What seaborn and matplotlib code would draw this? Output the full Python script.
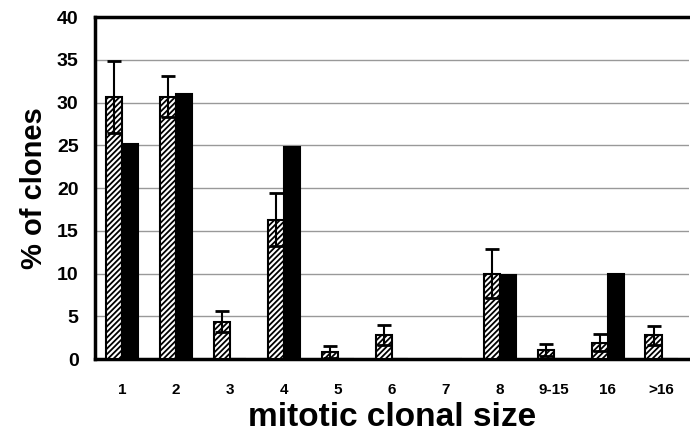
import numpy as np
import pandas as pd
import matplotlib
matplotlib.use("Agg")
import matplotlib.pyplot as plt
import seaborn as sns

categories = ["1", "2", "3", "4", "5", "6", "7", "8", "9-15", "16", ">16"]
hatched_vals = [30.7, 30.7, 4.4, 16.3, 0.8, 2.8, 0.0, 10.0, 1.1, 1.9, 2.8]
hatched_err = [4.2, 2.4, 1.2, 3.1, 0.7, 1.2, 0.0, 2.9, 0.7, 1.0, 1.1]
solid_vals = [25.2, 31.0, 0.0, 24.8, 0.0, 0.0, 0.0, 9.8, 0.0, 9.9, 0.0]
yticks = [0, 5, 10, 15, 20, 25, 30, 35, 40]

sns.set_style("white")
plt.rcParams["font.family"] = ["Liberation Sans", "DejaVu Sans"]
plt.rcParams["hatch.linewidth"] = 1.3
plt.rcParams["text.color"] = "black"
plt.rcParams["axes.labelcolor"] = "black"
plt.rcParams["xtick.color"] = "black"
plt.rcParams["ytick.color"] = "black"

df = pd.DataFrame({
    "size": categories * 2,
    "pct": hatched_vals + solid_vals,
    "group": ["A"] * len(categories) + ["B"] * len(categories),
})

fig = plt.figure(figsize=(6.9, 4.38), dpi=100)
ax = fig.add_axes([0.138, 0.180, 0.860, 0.781])

sns.barplot(data=df, x="size", y="pct", hue="group", order=categories,
            hue_order=["A", "B"], palette=["white", "black"], width=0.6,
            errorbar=None, legend=False, ax=ax, zorder=3)

n = len(categories)
patches = [p for p in ax.patches if p.get_height() is not None][: 2 * n]
for i, p in enumerate(patches):
    p.set_edgecolor("black")
    p.set_linewidth(1.5)
    if i < n:
        p.set_hatch("//////")
        p.set_facecolor("white")

xs = [patches[i].get_x() + patches[i].get_width() / 2 for i in range(n)]
ax.errorbar(xs, hatched_vals, yerr=hatched_err, fmt="none", ecolor="black",
            elinewidth=1.5, capsize=5, capthick=2, zorder=4)

ax.set_ylim(0, 40)
ax.set_xlim(-0.5, n - 0.5)
ax.set_yticks(yticks)
ax.set_yticklabels([str(t) for t in yticks], fontsize=14, fontweight="bold")
ax.set_xticks(range(n))
ax.set_xticklabels(categories, fontsize=11, fontweight="bold")
ax.tick_params(axis="x", length=0, pad=17)
ax.tick_params(axis="y", length=0, pad=12)
ax.yaxis.grid(True, color="#999999", linewidth=1.0, zorder=0)
ax.set_axisbelow(True)

for side in ["left", "top", "bottom"]:
    ax.spines[side].set_visible(True)
    ax.spines[side].set_color("black")
    ax.spines[side].set_linewidth(2.5)
ax.spines["right"].set_visible(False)

ax.set_xlabel("mitotic clonal size", fontsize=24, fontweight="bold", labelpad=4)
ax.set_ylabel("% of clones", fontsize=21, fontweight="bold", labelpad=6)

fig.savefig("out.png", dpi=100)
